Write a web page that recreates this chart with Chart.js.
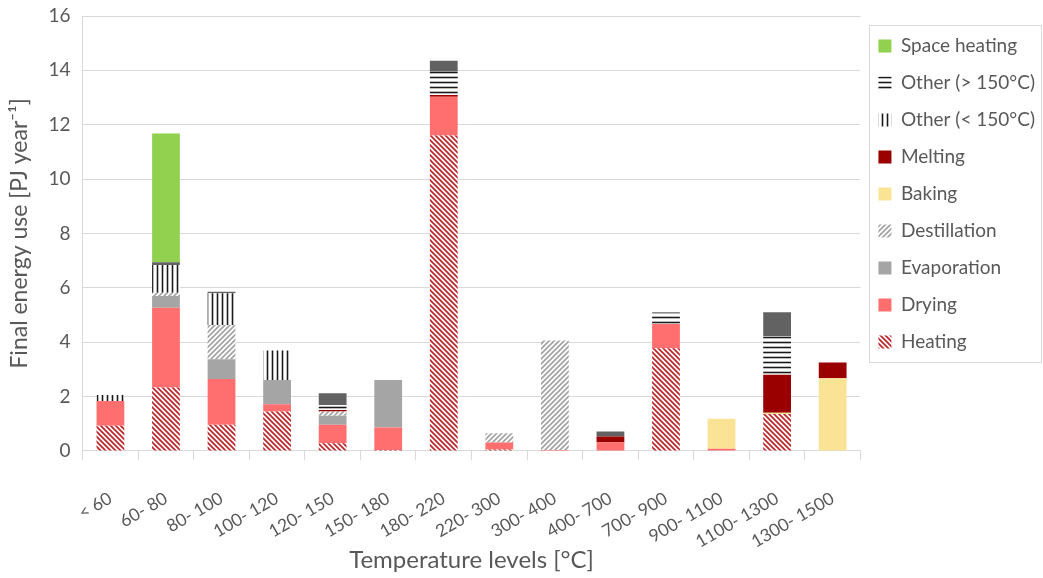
<!DOCTYPE html>
<html>
<head>
<meta charset="utf-8">
<script src="https://cdn.jsdelivr.net/npm/chart.js@4"></script>
<style>
  body { margin: 0; background: #fff; }
  #wrap { width: 1043px; height: 578px; }
</style>
</head>
<body>
<div id="wrap"><canvas id="chart" width="1043" height="578"></canvas></div>
<script>
const categories = ['< 60', '60- 80', '80- 100', '100- 120', '120- 150', '150- 180', '180- 220',
    '220- 300', '300- 400', '400- 700', '700- 900', '900- 1100', '1100- 1300', '1300- 1500'];
const heating      = [0.93, 2.33, 0.96, 1.45, 0.28, 0.03, 11.6, 0.05, 0, 0, 3.78, 0, 1.36, 0];
const drying       = [0.91, 2.94, 1.69, 0.27, 0.68, 0.83, 1.43, 0.26, 0.03, 0.32, 0.89, 0.08, 0, 0];
const evaporation  = [0, 0.43, 0.72, 0.89, 0.33, 1.75, 0, 0, 0, 0, 0, 0, 0, 0];
const destillation = [0, 0.12, 1.26, 0, 0.16, 0, 0, 0.34, 4.03, 0, 0, 0, 0, 0];
const baking       = [0, 0, 0, 0, 0, 0, 0, 0, 0, 0, 0, 1.1, 0.04, 2.67];
const melting      = [0, 0, 0, 0, 0.06, 0, 0.06, 0, 0, 0.21, 0, 0, 1.4, 0.58];
const otherLow     = [0.22, 1.02, 1.17, 1.08, 0, 0, 0, 0, 0, 0, 0, 0, 0, 0];
const otherHigh    = [0, 0, 0, 0, 0.18, 0, 0.86, 0, 0, 0, 0.42, 0, 1.43, 0];
const otherRest    = [0, 0.1, 0.06, 0, 0.43, 0, 0.4, 0, 0, 0.18, 0, 0, 0.87, 0];
const spaceHeating = [0, 4.74, 0, 0, 0, 0, 0, 0, 0, 0, 0, 0, 0, 0];
const yTicks = [0, 2, 4, 6, 8, 10, 12, 14, 16];

const ctx = document.getElementById('chart').getContext('2d');

// small canvas patterns for the hatched series
function hatch(kind, color, size, lw) {
    const c = document.createElement('canvas');
    c.width = size;
    c.height = size;
    const g = c.getContext('2d');
    g.fillStyle = '#fff';
    g.fillRect(0, 0, size, size);
    g.strokeStyle = color;
    g.lineWidth = lw;
    g.beginPath();
    if (kind === 'back') {
        g.moveTo(0, 0); g.lineTo(size, size);
        g.moveTo(size - 1, -1); g.lineTo(size + 1, 1);
        g.moveTo(-1, size - 1); g.lineTo(1, size + 1);
    } else if (kind === 'fwd') {
        g.moveTo(0, size); g.lineTo(size, 0);
        g.moveTo(-1, 1); g.lineTo(1, -1);
        g.moveTo(size - 1, size + 1); g.lineTo(size + 1, size - 1);
    } else if (kind === 'vert') {
        g.moveTo(size / 2, 0); g.lineTo(size / 2, size);
    } else {
        g.moveTo(0, size / 2); g.lineTo(size, size / 2);
    }
    g.stroke();
    return ctx.createPattern(c, 'repeat');
}

const legendBorder = {
    id: 'legendBorder',
    afterDraw(chart) {
        const boxes = chart.legend.legendHitBoxes;
        if (!boxes || !boxes.length) return;
        const l = Math.min(...boxes.map(b => b.left)) - 9;
        const t = Math.min(...boxes.map(b => b.top)) - 11;
        const b = Math.max(...boxes.map(b => b.top + b.height)) + 11;
        const c = chart.ctx;
        c.save();
        c.strokeStyle = '#d9d9d9';
        c.lineWidth = 1;
        c.strokeRect(Math.round(l) + 0.5, Math.round(t) + 0.5, chart.width - Math.round(l) - 2, b - t);
        c.restore();
    }
};

const datasets = [
    { label: 'Heating', data: heating, backgroundColor: hatch('back', '#c0282d', 5, 1.8) },
    { label: 'Drying', data: drying, backgroundColor: '#ff6f6f' },
    { label: 'Evaporation', data: evaporation, backgroundColor: '#a5a5a5' },
    { label: 'Destillation', data: destillation, backgroundColor: hatch('fwd', '#a5a5a5', 5, 1.8) },
    { label: 'Baking', data: baking, backgroundColor: '#fbe395' },
    { label: 'Melting', data: melting, backgroundColor: '#9a0000' },
    { label: 'Other (< 150°C)', data: otherLow, backgroundColor: hatch('vert', '#1a1a1a', 5, 1.6) },
    { label: 'Other (> 150°C)', data: otherHigh, backgroundColor: hatch('horz', '#1a1a1a', 5, 1.6) },
    { label: '', data: otherRest, backgroundColor: '#626262' },
    { label: 'Space heating', data: spaceHeating, backgroundColor: '#92d050' }
];
datasets.forEach(d => { d.categoryPercentage = 1; d.barPercentage = 0.5; d.borderWidth = 0; });

new Chart(ctx, {
    type: 'bar',
    data: { labels: categories, datasets: datasets },
    options: {
        responsive: false,
        animation: false,
        layout: { padding: { left: 6, right: -2, top: 0, bottom: 3 } },
        plugins: {
            tooltip: { enabled: false },
            legend: {
                position: 'right',
                align: 'start',
                reverse: true,
                title: { display: true, text: '', font: { size: 2 }, padding: { top: 0, bottom: 16 } },
                labels: {
                    filter: item => item.text !== '',
                    color: '#595959',
                    font: { family: 'Lato', size: 19 },
                    boxWidth: 13,
                    boxHeight: 13,
                    padding: 18
                }
            }
        },
        scales: {
            x: {
                stacked: true,
                grid: { offset: true, drawOnChartArea: false, drawTicks: true, tickLength: 9, color: '#d9d9d9' },
                border: { color: '#d9d9d9' },
                ticks: {
                    color: '#595959',
                    font: { family: 'Lato', size: 17.5 },
                    minRotation: 30,
                    maxRotation: 30,
                    autoSkip: false,
                    padding: 28
                },
                title: {
                    display: true,
                    text: 'Temperature levels [°C]',
                    color: '#595959',
                    font: { family: 'Lato', size: 24 },
                    padding: { top: -34, bottom: 0 }
                }
            },
            y: {
                stacked: true,
                min: 0,
                max: 16,
                afterBuildTicks: axis => { axis.ticks = yTicks.map(v => ({ value: v })); },
                afterFit: axis => { axis.paddingTop = 16; },
                grid: { color: '#d9d9d9', drawTicks: false },
                border: { color: '#d9d9d9' },
                ticks: {
                    color: '#595959',
                    font: { family: 'Lato', size: 19 },
                    padding: 12
                },
                title: {
                    display: true,
                    text: 'Final energy use [PJ year⁻¹]',
                    color: '#595959',
                    font: { family: 'Lato', size: 23 },
                    padding: { top: 0, bottom: 3 }
                }
            }
        }
    },
    plugins: [legendBorder]
});
</script>
</body>
</html>
